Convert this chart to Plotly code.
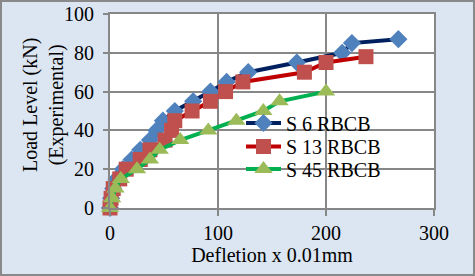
import plotly.graph_objects as go

s6_x = [0, 1, 3, 6, 12, 20, 28, 37, 43, 49, 60, 77, 93, 108, 128, 173, 215, 224, 267]
s6_y = [0, 5, 10, 15, 20, 25, 30, 35, 40, 45, 50, 55, 60, 65, 70, 75, 80, 85, 87]
s13_x = [0, 1, 3, 9, 15, 28, 37, 51, 57, 60, 76, 93, 107, 123, 180, 200, 237]
s13_y = [0, 5, 10, 15, 20, 25, 30, 35, 40, 45, 50, 55, 60, 65, 70, 75, 78]
s45_x = [0, 2, 5, 10, 25, 37, 46, 65, 91, 117, 142, 157, 200]
s45_y = [0, 5, 10, 15, 20, 25, 30, 35, 40, 45, 50, 55, 60]
names = ["S 6 RBCB", "S 13 RBCB", "S 45 RBCB"]
y_title = "Load Level (kN)<br>(Experimental)"
x_title = "Defletion x 0.01mm"

W, H = 475, 276
L, R, T, B = 110, 41, 14, 68
pw, ph = W - L - R, H - T - B

fig = go.Figure()
fig.add_trace(go.Scatter(x=s6_x, y=s6_y, mode="lines+markers", name=names[0], legend="legend",
                         line=dict(color="#002060", width=4),
                         marker=dict(symbol="diamond", size=14, color="#4f81bd"),
                         cliponaxis=False))
fig.add_trace(go.Scatter(x=s13_x, y=s13_y, mode="lines+markers", name=names[1], legend="legend2",
                         line=dict(color="#c00000", width=4),
                         marker=dict(symbol="square", size=15, color="#c0504d"),
                         cliponaxis=False))
fig.add_trace(go.Scatter(x=s45_x, y=s45_y, mode="lines+markers", name=names[2], legend="legend3",
                         line=dict(color="#00b050", width=4),
                         marker=dict(symbol="triangle-up", size=16, color="#9bbb59"),
                         cliponaxis=False))

grid = "#878787"
font = dict(family="Liberation Serif", size=20, color="black")


def leg(ypix):
    return dict(x=(241 - L) / pw, y=(T + ph - ypix) / ph, xanchor="left", yanchor="middle",
                bgcolor="rgba(0,0,0,0)", font=font, itemwidth=35)


fig.update_layout(
    width=W, height=H,
    margin=dict(l=L, r=R, t=T, b=B, autoexpand=False),
    paper_bgcolor="#dce6f2", plot_bgcolor="white",
    font=font,
    showlegend=True,
    legend=leg(123), legend2=leg(146.5), legend3=leg(169),
    xaxis=dict(range=[0, 300], dtick=100, showgrid=True, gridcolor=grid, gridwidth=2,
               showline=True, linecolor=grid, linewidth=2, mirror=True,
               ticks="outside", ticklen=6, tickcolor=grid, tickwidth=2,
               zeroline=False, automargin=False,
               title=dict(text=x_title, standoff=2, font=font)),
    yaxis=dict(range=[0, 100], dtick=20, showgrid=True, gridcolor=grid, gridwidth=2,
               showline=True, linecolor=grid, linewidth=2, mirror=True,
               ticks="outside", ticklen=5, tickcolor=grid, tickwidth=2,
               zeroline=False, automargin=False, ticklabelstandoff=5),
)
fig.add_annotation(text=y_title, xref="paper", yref="paper",
                   x=(43 - L) / pw, y=(T + ph - 105) / ph, xanchor="center", yanchor="middle",
                   textangle=-90, showarrow=False, font=font)
fig.add_shape(type="rect", xref="paper", yref="paper",
              x0=-(L - 1) / pw, x1=1 + (R - 1) / pw,
              y0=-(B - 1) / ph, y1=1 + (T - 1) / ph,
              line=dict(color="#898989", width=2), fillcolor="rgba(0,0,0,0)")
fig.write_html("out.html", config={"displayModeBar": False},
               post_script="document.body.style.margin='0';document.body.style.overflow='hidden';")
